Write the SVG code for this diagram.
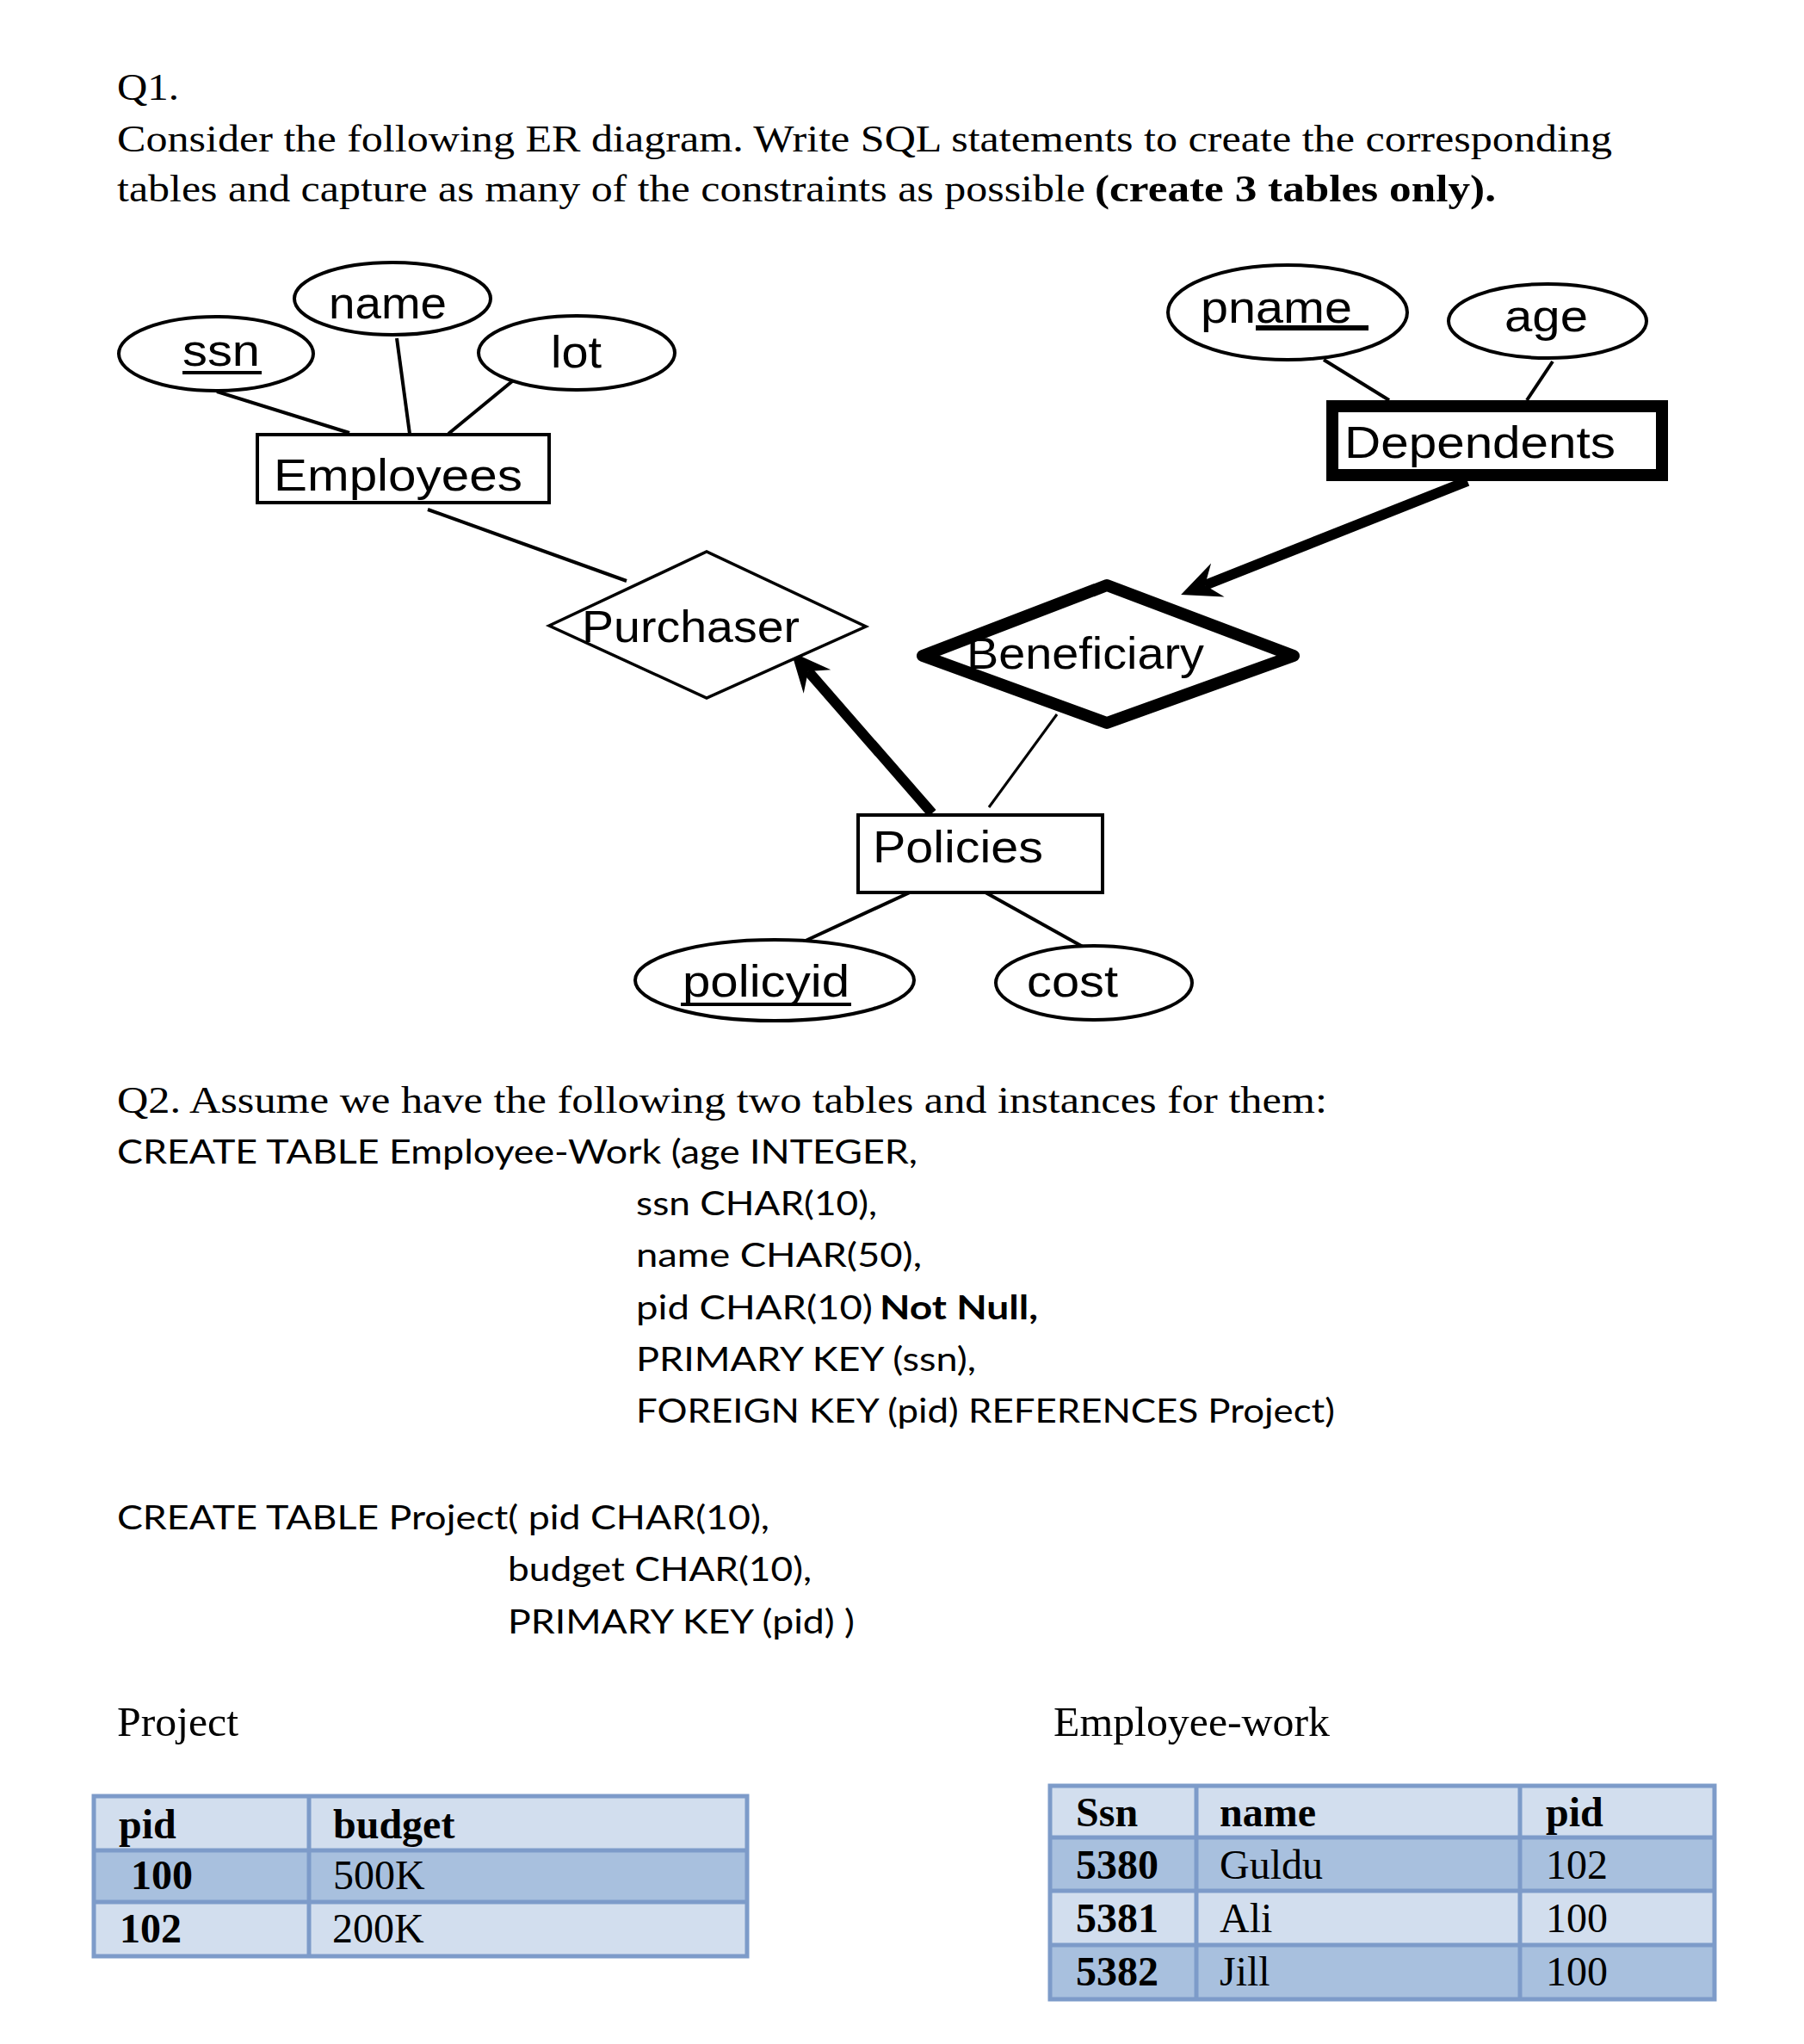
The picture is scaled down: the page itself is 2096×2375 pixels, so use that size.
<svg xmlns="http://www.w3.org/2000/svg" width="2096" height="2375" viewBox="0 0 2096 2375">
<style>
.tnr{font-family:"Liberation Serif","Times New Roman",serif;font-size:45px;fill:#000}
.cal{font-family:Lato,"Liberation Sans",sans-serif;font-size:39px;fill:#000}
.er{font-family:"Liberation Sans",Arial,sans-serif;font-size:52px;fill:#000}
.tb{font-family:"Liberation Serif","Times New Roman",serif;font-size:48px;fill:#000}
.b{font-weight:bold}
.shape{fill:#fff;stroke:#000;stroke-width:4}
.thin{stroke:#000;stroke-width:4;fill:none}
.thick{stroke:#000;stroke-width:12;fill:none}
.ul{stroke:#000;stroke-width:4}
.lt{fill:#d2deee}
.dk{fill:#a8c0de}
.grid{stroke:#7d9bc9;stroke-width:5;fill:none}
</style>
<defs>
<marker id="arr" markerUnits="userSpaceOnUse" markerWidth="60" markerHeight="60" refX="0" refY="0" orient="auto" overflow="visible">
<path d="M30,0 L-16,-21 L0,0 L-16,21 Z" fill="#000"/>
</marker>
</defs>
<rect width="2096" height="2375" fill="#fff"/>

<g id="q1-text">
<text class="tnr" x="136" y="116" textLength="72" lengthAdjust="spacingAndGlyphs">Q1.</text>
<text class="tnr" x="136" y="176" textLength="1737" lengthAdjust="spacingAndGlyphs">Consider the following ER diagram. Write SQL statements to create the corresponding</text>
<text class="tnr" x="136" y="234" textLength="1125" lengthAdjust="spacingAndGlyphs">tables and capture as many of the constraints as possible</text>
<text class="tnr b" x="1272" y="234" textLength="466" lengthAdjust="spacingAndGlyphs">(create 3 tables only).</text>
</g>

<g id="connectors">
<line class="thin" x1="252" y1="455" x2="406" y2="503"/>
<line class="thin" x1="461" y1="393" x2="476" y2="504"/>
<line class="thin" x1="600" y1="439" x2="521" y2="504"/>
<line class="thin" x1="497" y1="592" x2="728" y2="675"/>
<line class="thin" x1="1538" y1="418" x2="1614" y2="465"/>
<line class="thin" x1="1804" y1="420" x2="1774" y2="465"/>
<line class="thick" x1="1705" y1="559" x2="1400" y2="680" marker-end="url(#arr)"/>
<line class="thick" x1="1083" y1="945" x2="939" y2="780" marker-end="url(#arr)"/>
<line class="thin" style="stroke-width:3" x1="1228" y1="830" x2="1149" y2="938"/>
<line class="thin" x1="1057" y1="1037" x2="936" y2="1093"/>
<line class="thin" x1="1145" y1="1037" x2="1258" y2="1100"/>
</g>

<g id="ssn">
<ellipse class="shape" cx="251" cy="411" rx="113" ry="43"/>
<text class="er" x="212" y="425" textLength="90" lengthAdjust="spacingAndGlyphs">ssn</text>
<line class="ul" x1="212" y1="433" x2="304" y2="433"/>
</g>
<g id="name">
<ellipse class="shape" cx="456" cy="347" rx="114" ry="42"/>
<text class="er" x="382" y="370" textLength="137" lengthAdjust="spacingAndGlyphs">name</text>
</g>
<g id="lot">
<ellipse class="shape" cx="670" cy="410" rx="114" ry="43"/>
<text class="er" x="640" y="427" textLength="59" lengthAdjust="spacingAndGlyphs">lot</text>
</g>
<g id="employees">
<rect class="shape" x="299" y="505" width="339" height="79"/>
<text class="er" x="318" y="570" textLength="289" lengthAdjust="spacingAndGlyphs">Employees</text>
</g>
<g id="purchaser">
<polygon class="shape" style="stroke-width:3.5" points="638,727 821,641 1006,728 821,811"/>
<text class="er" x="676" y="746" textLength="253" lengthAdjust="spacingAndGlyphs">Purchaser</text>
</g>
<g id="beneficiary">
<polygon class="shape" style="stroke-width:14;stroke-linejoin:round" points="1072,762 1286,680 1503,762 1286,840"/>
<text class="er" x="1123" y="777" textLength="276" lengthAdjust="spacingAndGlyphs">Beneficiary</text>
</g>
<g id="pname">
<ellipse class="shape" cx="1496" cy="363" rx="139" ry="55"/>
<text class="er" x="1395" y="375" textLength="176" lengthAdjust="spacingAndGlyphs">pname</text>
<line class="ul" style="stroke-width:6" x1="1459" y1="381" x2="1590" y2="381"/>
</g>
<g id="age">
<ellipse class="shape" cx="1798" cy="373" rx="115" ry="43"/>
<text class="er" x="1748" y="385" textLength="97" lengthAdjust="spacingAndGlyphs">age</text>
</g>
<g id="dependents">
<rect class="shape" style="stroke-width:14" x="1548" y="472" width="383" height="80"/>
<text class="er" x="1562" y="532" textLength="315" lengthAdjust="spacingAndGlyphs">Dependents</text>
</g>
<g id="policies">
<rect class="shape" x="997" y="947" width="284" height="90"/>
<text class="er" x="1014" y="1002" textLength="198" lengthAdjust="spacingAndGlyphs">Policies</text>
</g>
<g id="policyid">
<ellipse class="shape" cx="900" cy="1139" rx="162" ry="47"/>
<text class="er" x="793" y="1158" textLength="194" lengthAdjust="spacingAndGlyphs">policyid</text>
<line class="ul" x1="791" y1="1167" x2="989" y2="1167"/>
</g>
<g id="cost">
<ellipse class="shape" cx="1271" cy="1142" rx="114" ry="43"/>
<text class="er" x="1193" y="1158" textLength="106" lengthAdjust="spacingAndGlyphs">cost</text>
</g>

<g id="q2-text">
<text class="tnr" x="136" y="1293" textLength="1406" lengthAdjust="spacingAndGlyphs">Q2. Assume we have the following two tables and instances for them:</text>
<text class="cal" x="136" y="1352" textLength="930" lengthAdjust="spacingAndGlyphs">CREATE TABLE Employee-Work (age INTEGER,</text>
<text class="cal" x="739" y="1412" textLength="280" lengthAdjust="spacingAndGlyphs">ssn CHAR(10),</text>
<text class="cal" x="739" y="1472" textLength="332" lengthAdjust="spacingAndGlyphs">name CHAR(50),</text>
<text class="cal" x="739" y="1533" textLength="275" lengthAdjust="spacingAndGlyphs">pid CHAR(10)</text>
<text class="cal b" x="1022" y="1533" textLength="184" lengthAdjust="spacingAndGlyphs">Not Null,</text>
<text class="cal" x="739" y="1593" textLength="395" lengthAdjust="spacingAndGlyphs">PRIMARY KEY (ssn),</text>
<text class="cal" x="739" y="1653" textLength="812" lengthAdjust="spacingAndGlyphs">FOREIGN KEY (pid) REFERENCES Project)</text>
<text class="cal" x="136" y="1777" textLength="758" lengthAdjust="spacingAndGlyphs">CREATE TABLE Project( pid CHAR(10),</text>
<text class="cal" x="590" y="1837" textLength="353" lengthAdjust="spacingAndGlyphs">budget CHAR(10),</text>
<text class="cal" x="590" y="1898" textLength="403" lengthAdjust="spacingAndGlyphs">PRIMARY KEY (pid) )</text>
<text class="tnr" style="font-size:48px" x="136" y="2017" textLength="141" lengthAdjust="spacingAndGlyphs">Project</text>
<text class="tnr" style="font-size:48px" x="1224" y="2017" textLength="321" lengthAdjust="spacingAndGlyphs">Employee-work</text>
</g>

<g id="project-table">
<rect class="lt" x="109" y="2087" width="759" height="63"/>
<rect class="dk" x="109" y="2150" width="759" height="60"/>
<rect class="lt" x="109" y="2210" width="759" height="63"/>
<path class="grid" d="M109,2150 H868 M109,2210 H868 M359,2087 V2273"/>
<rect class="grid" x="109" y="2087" width="759" height="186"/>
<text class="tb b" x="138" y="2136">pid</text>
<text class="tb b" x="387" y="2136">budget</text>
<text class="tb b" x="152" y="2195">100</text>
<text class="tb" x="387" y="2195">500K</text>
<text class="tb b" x="139" y="2257">102</text>
<text class="tb" x="386" y="2257">200K</text>
</g>

<g id="employee-work-table">
<rect class="lt" x="1220" y="2075" width="772" height="60"/>
<rect class="dk" x="1220" y="2135" width="772" height="62"/>
<rect class="lt" x="1220" y="2197" width="772" height="63"/>
<rect class="dk" x="1220" y="2260" width="772" height="63"/>
<path class="grid" d="M1220,2135 H1992 M1220,2197 H1992 M1220,2260 H1992 M1390,2075 V2323 M1766,2075 V2323"/>
<rect class="grid" x="1220" y="2075" width="772" height="248"/>
<text class="tb b" x="1250" y="2122">Ssn</text>
<text class="tb b" x="1417" y="2122">name</text>
<text class="tb b" x="1796" y="2122">pid</text>
<text class="tb b" x="1250" y="2183">5380</text>
<text class="tb" x="1417" y="2183">Guldu</text>
<text class="tb" x="1796" y="2183">102</text>
<text class="tb b" x="1250" y="2245">5381</text>
<text class="tb" x="1417" y="2245">Ali</text>
<text class="tb" x="1796" y="2245">100</text>
<text class="tb b" x="1250" y="2307">5382</text>
<text class="tb" x="1417" y="2307">Jill</text>
<text class="tb" x="1796" y="2307">100</text>
</g>
</svg>
